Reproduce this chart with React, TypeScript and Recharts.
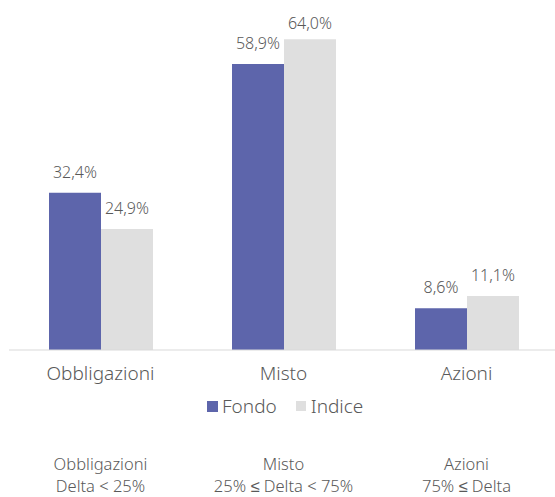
import React from "react";
import { BarChart, Bar, XAxis, YAxis, Legend, LabelList } from "recharts";

const categories = ["Obbligazioni", "Misto", "Azioni"];
const subLabels = ["Delta < 25%", "25% ≤ Delta < 75%", "75% ≤ Delta"];
const fondo = [32.4, 58.9, 8.6];
const indice = [24.9, 64.0, 11.1];

const data = categories.map((name, i) => ({
  name,
  Fondo: fondo[i],
  Indice: indice[i],
}));

const FONT = "'Noto Sans', sans-serif";
const TEXT = "#595959";
const FONDO_COLOR = "#5D65AB";
const INDICE_COLOR = "#DFDFDF";

const fmt = (v: number) => v.toFixed(1).replace(".", ",") + "%";

const BottomTick = (props: any) => {
  const { x, y, payload } = props;
  const idx = categories.indexOf(payload.value);
  return (
    <g>
      <text x={x} y={y + 82} textAnchor="middle" fill={TEXT} fontSize={16.5} fontWeight={300} fontFamily={FONT}>
        {payload.value}
      </text>
      <text x={x} y={y + 104} textAnchor="middle" fill={TEXT} fontSize={16.5} fontWeight={300} fontFamily={FONT}>
        {subLabels[idx]}
      </text>
    </g>
  );
};

const ValueLabel = (props: any) => {
  const { x, y, width, value } = props;
  const ty = Math.max(y - 15, 29);
  return (
    <text x={x + width / 2} y={ty} textAnchor="middle" fill={TEXT} fontSize={16} fontWeight={300} fontFamily={FONT}>
      {fmt(value)}
    </text>
  );
};

const LegendContent = () => (
  <div style={{ display: "flex", alignItems: "center", fontFamily: FONT, fontSize: 19, fontWeight: 300, color: TEXT, lineHeight: "26px", height: 26 }}>
    <span style={{ display: "inline-block", width: 11, height: 11, background: FONDO_COLOR, marginRight: 4 }} />
    <span style={{ marginRight: 19 }}>Fondo</span>
    <span style={{ display: "inline-block", width: 10, height: 10, background: INDICE_COLOR, marginRight: 5 }} />
    <span>Indice</span>
  </div>
);

export default function App() {
  return (
    <div style={{ position: "absolute", left: 0, top: 0, width: 555, height: 497, background: "#fff", overflow: "hidden" }}>
      <BarChart
        width={555}
        height={497}
        data={data}
        margin={{ top: 10, right: -3, left: 9, bottom: 0 }}
        barGap={0}
      >
        <YAxis hide domain={[0, 70]} />
        <XAxis
          dataKey="name"
          height={30}
          axisLine={{ stroke: "#D9D9D9", strokeWidth: 1 }}
          tickLine={false}
          tick={{ fill: TEXT, fontSize: 19, fontWeight: 300, fontFamily: FONT }}
          tickMargin={11}
        />
        <XAxis
          xAxisId="b"
          dataKey="name"
          height={117}
          axisLine={false}
          tickLine={false}
          tick={<BottomTick />}
        />
        <Legend
          layout="horizontal"
          verticalAlign="middle"
          align="center"
          content={<LegendContent />}
          wrapperStyle={{ top: 393, left: 207, width: 200 }}
        />
        <Bar dataKey="Fondo" fill={FONDO_COLOR} barSize={52} isAnimationActive={false}>
          <LabelList dataKey="Fondo" content={<ValueLabel />} />
        </Bar>
        <Bar dataKey="Indice" fill={INDICE_COLOR} barSize={52} isAnimationActive={false}>
          <LabelList dataKey="Indice" content={<ValueLabel />} />
        </Bar>
      </BarChart>
    </div>
  );
}
